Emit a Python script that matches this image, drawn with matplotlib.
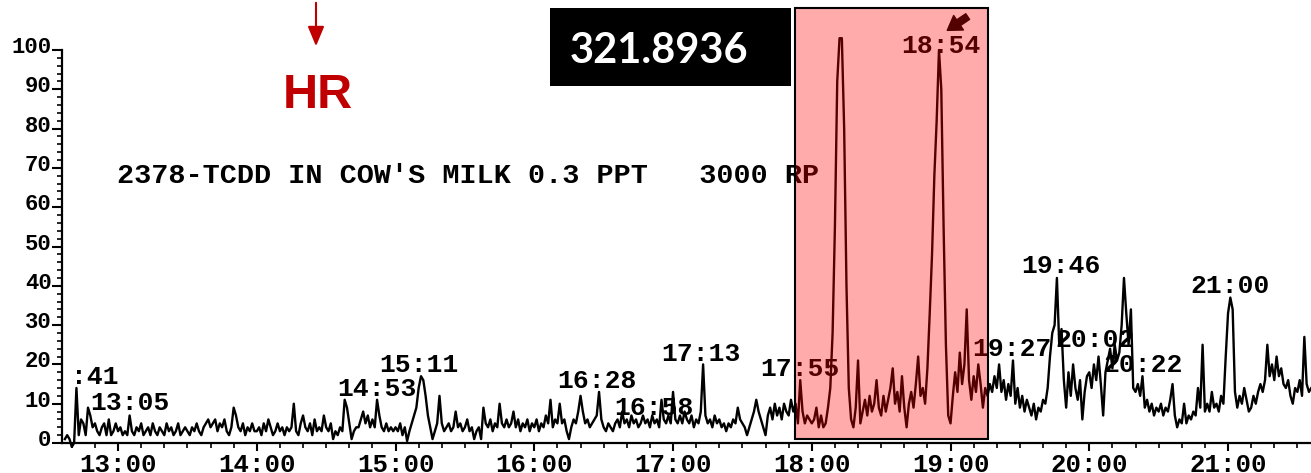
import numpy as np
import matplotlib.pyplot as plt
from matplotlib.patches import Rectangle
from matplotlib.ticker import FixedLocator
import matplotlib.transforms as mtransforms

W, H = 1311, 473
plt.rcParams['font.family'] = ['Liberation Mono', 'DejaVu Sans Mono']
plt.rcParams['font.weight'] = 'bold'

# scan starts at 12:37, one reading per second, values in % of full scale
start_min = 12 + 37 / 60
m12 = [1, 2, 1, -1, 0, 14, 2, 6, 5, 2, 9, 7, 4, 5, 3, 2, 4, 5, 2, 6, 2, 3, 5]
m13 = [3, 4, 2, 3, 2, 7, 3, 2, 4, 3, 5, 2, 3, 4, 2, 5, 3, 2, 4, 3,
       2, 5, 3, 4, 2, 3, 5, 2, 3, 4, 3, 2, 4, 3, 5, 3, 2, 4, 5, 6,
       4, 5, 6, 3, 5, 4, 6, 3, 2, 4, 9, 7, 4, 3, 5, 2, 4, 3, 5, 3]
m14 = [3, 4, 2, 5, 3, 6, 4, 2, 3, 5, 3, 4, 2, 4, 3, 4, 10, 3, 2, 5,
       7, 4, 3, 5, 2, 6, 3, 4, 3, 7, 4, 3, 5, 1, 3, 2, 4, 3, 11, 9,
       5, 1, 3, 4, 4, 6, 8, 5, 7, 4, 6, 4, 11, 7, 4, 3, 5, 3, 4, 3]
m15 = [4, 3, 5, 2, 4, 0.5, 3, 5, 7, 9, 14, 17, 16, 12, 7, 4, 1, 3, 5, 12,
       5, 3, 4, 5, 3, 4, 8, 4, 5, 3, 4, 6, 3, 4, 1, 3, 4, 1, 9, 5,
       4, 6, 3, 5, 4, 10, 5, 4, 6, 4, 5, 8, 4, 6, 3, 5, 4, 6, 3, 5]
m16 = [4, 6, 3, 5, 4, 7, 5, 11, 4, 6, 5, 10, 5, 6, 3, 1, 4, 6, 5, 8,
       12, 8, 5, 6, 4, 5, 6, 7, 13, 6, 4, 3, 5, 4, 3, 5, 6, 4, 8, 5,
       6, 4, 7, 5, 6, 4, 5, 7, 5, 6, 4, 7, 5, 6, 4, 11, 6, 5, 7, 5]
m17 = [13, 6, 5, 7, 5, 8, 6, 5, 7, 4, 6, 5, 8, 20, 7, 5, 6, 4, 7, 5,
       6, 4, 5, 3, 5, 4, 6, 5, 9, 6, 5, 4, 2, 4, 6, 8, 11, 8, 6, 4,
       2, 7, 9, 6, 10, 7, 9, 6, 10, 8, 7, 11, 8, 10, 5, 16, 8, 5, 7, 6]
m18 = [5, 6, 9, 4, 7, 4, 5, 9, 14, 28, 55, 92, 103, 103, 80, 40, 14, 6, 4, 9,
       21, 5, 8, 11, 7, 12, 8, 10, 16, 9, 7, 12, 8, 11, 14, 19, 10, 13, 8, 17,
       9, 4, 10, 13, 9, 15, 22, 12, 14, 10, 19, 33, 48, 68, 82, 100, 90, 55, 25, 7]
m19 = [5, 12, 18, 13, 23, 15, 20, 34, 16, 11, 17, 13, 20, 15, 9, 14, 12, 15, 13, 17,
       14, 20, 13, 16, 11, 15, 12, 21, 10, 14, 9, 12, 8, 11, 9, 7, 10, 6, 9, 8,
       11, 10, 14, 22, 28, 30, 42, 25, 29, 16, 9, 18, 12, 20, 14, 11, 16, 6, 13, 17]
m20 = [18, 14, 20, 16, 22, 15, 7, 18, 21, 24, 19, 25, 21, 23, 30, 42, 33, 25, 34, 14,
       13, 15, 12, 17, 9, 11, 8, 10, 7, 9, 8, 10, 7, 9, 8, 11, 15, 7, 4, 6,
       5, 10, 5, 7, 6, 8, 7, 14, 9, 25, 8, 10, 8, 13, 9, 10, 8, 12, 10, 22]
m21 = [33, 37, 34, 13, 9, 12, 10, 14, 11, 8, 9, 12, 10, 13, 15, 13, 16, 25, 17, 20,
       16, 22, 17, 19, 15, 14, 16, 12, 10, 14, 13, 16, 12, 27, 15, 13, 14]

intensity = np.array(m12 + m13 + m14 + m15 + m16 + m17 + m18 + m19 + m20 + m21)
scan_time = start_min + np.arange(len(intensity)) / 60

x_ticks = [13, 14, 15, 16, 17, 18, 19, 20, 21]
x_tick_labels = ["13:00", "14:00", "15:00", "16:00", "17:00", "18:00", "19:00", "20:00", "21:00"]
y_ticks = [0, 10, 20, 30, 40, 50, 60, 70, 80, 90, 100]

peak_labels = [":41", "13:05", "14:53", "15:11", "16:28", "16:58", "17:13", "17:55",
               "18:54", "19:27", "19:46", "20:02", "20:22", "21:00"]
peak_label_t = [12.830, 13.086, 14.869, 15.165, 16.455, 16.864, 17.203, 17.916,
                18.932, 19.443, 19.795, 20.040, 20.386, 21.016]
peak_label_v = [15.0, 8.4, 12.0, 18.1, 14.0, 7.1, 20.9, 17.0,
                99.2, 22.1, 43.3, 24.4, 18.1, 38.2]

title_txt = "2378-TCDD IN COW'S MILK 0.3 PPT   3000 RP"

fig = plt.figure(figsize=(W / 100, H / 100), dpi=100)
ax = fig.add_axes([62 / W, 0, 1 - 62 / W, 1])
ax.plot(scan_time, intensity, color='black', lw=1.7, zorder=3)

ax.set_xlim(12.596, 21.598)
ax.set_ylim(-7.63, 112.72)

for s in ['top', 'right']:
    ax.spines[s].set_visible(False)
ax.spines['left'].set_bounds(0, 100)
ax.spines['bottom'].set_position(('data', 0))
ax.spines['left'].set_linewidth(1.6)
ax.spines['bottom'].set_linewidth(1.6)

ax.xaxis.set_major_locator(FixedLocator(x_ticks))
ax.set_xticklabels(x_tick_labels)
ax.xaxis.set_minor_locator(FixedLocator(np.arange(12 + 4 / 6, 21.6, 1 / 6)))
ax.yaxis.set_major_locator(FixedLocator(y_ticks))
ax.yaxis.set_minor_locator(FixedLocator(np.arange(0, 101, 2)))

ax.tick_params(axis='y', which='major', direction='out', length=7, width=1.5, pad=0.5, labelsize=16)
ax.tick_params(axis='y', which='minor', direction='out', length=3.5, width=1.2)
ax.tick_params(axis='x', which='major', direction='out', length=5.5, width=1.5, pad=1.5, labelsize=18.5)
ax.tick_params(axis='x', which='minor', direction='out', length=3.5, width=1.2)

up = mtransforms.ScaledTranslation(0, 5 / 100, fig.dpi_scale_trans)
for lab in ax.get_yticklabels():
    lab.set_transform(lab.get_transform() + up)

ax.text(12.993, 66.2, title_txt, ha='left', va='baseline', fontsize=20.5)

for lab, t, v in zip(peak_labels, peak_label_t, peak_label_v):
    ax.text(t, v, lab, ha='center', va='baseline', fontsize=19, zorder=2)

# small hand-drawn mark above the 18:54 peak
ax.annotate('', xy=(18.96, 104.6), xytext=(19.14, 108.9),
            arrowprops=dict(arrowstyle='simple,head_width=0.9,head_length=0.7,tail_width=0.35',
                            color='black', mutation_scale=14), zorder=2)

# highlighted window
ax.add_patch(Rectangle((17.879, 1.02), 19.270 - 17.879, 110.7 - 1.02,
                       facecolor='red', alpha=0.33, edgecolor='none', zorder=5))
ax.add_patch(Rectangle((17.879, 1.02), 19.270 - 17.879, 110.7 - 1.02,
                       facecolor='none', edgecolor='black', lw=1.5, zorder=6))

# mass label box
fig.add_artist(Rectangle((550 / W, (H - 86) / H), 241 / W, 78 / H,
                         transform=fig.transFigure, facecolor='black', edgecolor='none'))
fig.text(570 / W, (H - 63) / H, "321.8936", color='white', fontsize=30, fontweight='bold',
         family=['Lato', 'DejaVu Sans'], ha='left', va='baseline')

# HR arrow and label
ax.annotate('', xy=(316 / W, (H - 49) / H), xytext=(316 / W, 1.0),
            xycoords='figure fraction', textcoords='figure fraction',
            arrowprops=dict(arrowstyle='-|>,head_length=0.6,head_width=0.25',
                            color='#C00000', lw=1.5, mutation_scale=20))
fig.text(318 / W, (H - 108) / H, "HR", color='#C00000', fontsize=35, fontweight='bold',
         family=['Liberation Sans Narrow', 'Liberation Sans', 'DejaVu Sans'],
         ha='center', va='baseline')

fig.savefig('out.png', dpi=100)
